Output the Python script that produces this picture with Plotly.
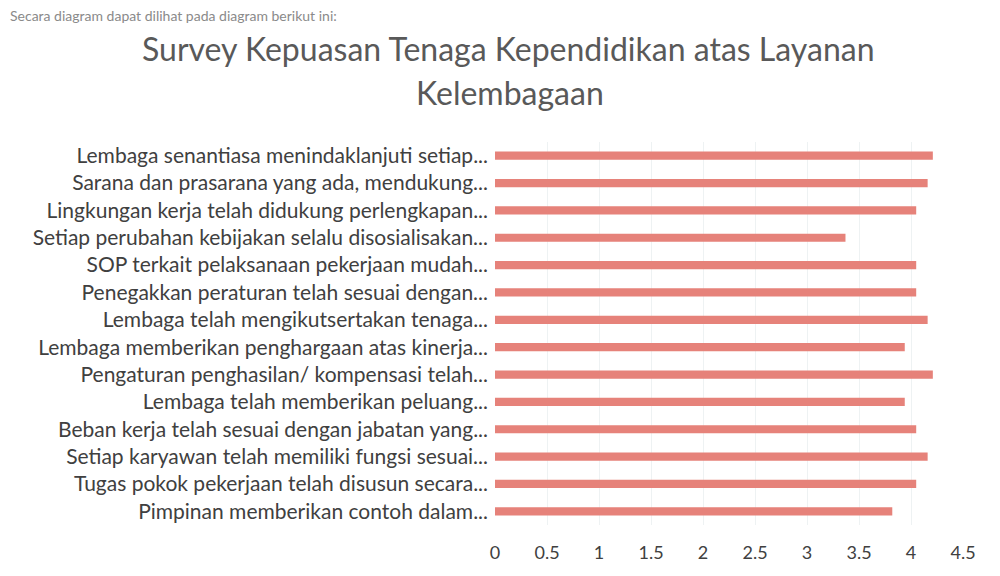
import plotly.graph_objects as go

categories = [
    "Lembaga senantiasa menindaklanjuti setiap...",
    "Sarana dan prasarana yang ada, mendukung...",
    "Lingkungan kerja telah didukung perlengkapan...",
    "Setiap perubahan kebijakan selalu disosialisakan...",
    "SOP terkait pelaksanaan pekerjaan mudah...",
    "Penegakkan peraturan telah sesuai dengan...",
    "Lembaga telah mengikutsertakan tenaga...",
    "Lembaga memberikan penghargaan atas kinerja...",
    "Pengaturan penghasilan/ kompensasi telah...",
    "Lembaga telah memberikan peluang...",
    "Beban kerja telah sesuai dengan jabatan yang...",
    "Setiap karyawan telah memiliki fungsi sesuai...",
    "Tugas pokok pekerjaan telah disusun secara...",
    "Pimpinan memberikan contoh dalam...",
]
values = [4.21, 4.16, 4.05, 3.37, 4.05, 4.05, 4.16, 3.94, 4.21, 3.94, 4.05, 4.16, 4.05, 3.82]
tick_vals = [0, 0.5, 1, 1.5, 2, 2.5, 3, 3.5, 4, 4.5]
tick_text = ["0", "0.5", "1", "1.5", "2", "2.5", "3", "3.5", "4", "4.5"]

title_line1 = "Survey Kepuasan Tenaga Kependidikan atas Layanan"
title_line2 = "Kelembagaan"
header_text = "Secara diagram dapat dilihat pada diagram berikut ini:"

# page body has an 8px margin, so the figure is drawn 8px right/down
OFF = 8
W, H = 1000 - OFF, 576 - OFF
ML, MR, MT, MB = 495 - OFF, 37, 142 - OFF, 51
PW, PH = W - ML - MR, H - MT - MB


def px(xp):
    return (xp - OFF - ML) / PW


def py(yp):
    return (H - MB - (yp - OFF)) / PH


FONT = "Lato, Open Sans, sans-serif"

fig = go.Figure(go.Bar(
    x=values, y=categories, orientation="h",
    marker=dict(color="#e6827a", line=dict(width=0)),
))

fig.update_layout(
    width=W, height=H,
    paper_bgcolor="white", plot_bgcolor="white",
    margin=dict(l=ML, r=MR, t=MT, b=MB, autoexpand=False),
    bargap=0.7,
    showlegend=False,
    font=dict(family=FONT, color="#404040"),
    annotations=[
        dict(text=title_line1, xref="paper", yref="paper", x=px(508), y=py(48),
             xanchor="center", yanchor="middle", showarrow=False,
             font=dict(size=32, color="#595959", family=FONT)),
        dict(text=title_line2, xref="paper", yref="paper", x=px(510), y=py(93),
             xanchor="center", yanchor="middle", showarrow=False,
             font=dict(size=32, color="#595959", family=FONT)),
        dict(text=header_text, xref="paper", yref="paper", x=px(8), y=py(16),
             xanchor="left", yanchor="middle", showarrow=False,
             font=dict(size=14, color="#8a8a8a", family=FONT)),
    ],
)
fig.update_xaxes(range=[0, 4.5], tickvals=tick_vals, ticktext=tick_text,
                 showgrid=True, gridcolor="#eef2f3", gridwidth=1, zeroline=False,
                 showline=False, ticks="", tickfont=dict(size=18, color="#404040"),
                 ticklabelstandoff=15)
fig.update_yaxes(autorange="reversed", showgrid=False, showline=False, ticks="",
                 tickfont=dict(size=21, color="#404040"), ticklabelstandoff=6)

fig.write_html("out.html")
